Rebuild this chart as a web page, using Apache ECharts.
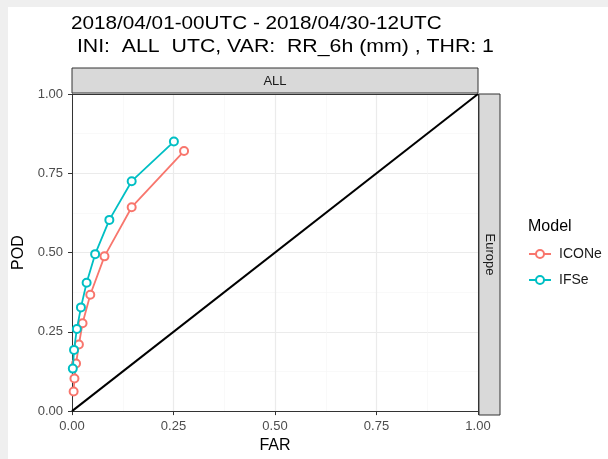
<!DOCTYPE html>
<html><head><meta charset="utf-8">
<script src="https://cdn.jsdelivr.net/npm/echarts@6/dist/echarts.min.js"></script>
<style>html,body{margin:0;padding:0;background:#fff}#c{width:608px;height:459px}</style>
</head><body><div id="c"></div>
<script>
const xTicks = [0, 0.25, 0.5, 0.75, 1];
const yTicks = [0, 0.25, 0.5, 0.75, 1];
const models = ['ICONe', 'IFSe'];
const iconeFAR = [0.276, 0.147, 0.080, 0.045, 0.026, 0.017, 0.010, 0.006, 0.004];
const iconePOD = [0.820, 0.643, 0.488, 0.367, 0.277, 0.210, 0.150, 0.103, 0.062];
const ifseFAR = [0.251, 0.147, 0.092, 0.057, 0.036, 0.022, 0.012, 0.005, 0.002];
const ifsePOD = [0.850, 0.725, 0.603, 0.495, 0.405, 0.327, 0.259, 0.193, 0.134];
const diagFAR = [0, 1];
const diagPOD = [0, 1];
const colors = ['#F8766D', '#00BFC4'];

const zip = (a, b) => a.map((v, i) => [v, b[i]]);
const fmt = v => v.toFixed(2);
const chart = echarts.init(document.getElementById('c'));
const F = 'Liberation Sans, Arial, sans-serif';
const L = 72, R = 478, T = 94, B = 415;
chart.setOption({
  animation: false,
  backgroundColor: '#fff',
  textStyle: { fontFamily: F },
  grid: { left: L, right: 608 - R, top: T, bottom: 459 - B },
  xAxis: [{
    type: 'value', min: 0, max: 1, interval: 0.25,
    name: 'FAR', nameLocation: 'middle', nameGap: 24,
    nameTextStyle: { fontSize: 16, color: '#000', fontFamily: F },
    axisLine: { show: true, lineStyle: { color: '#333', width: 1 } },
    axisTick: { show: true, length: 4, lineStyle: { color: '#333' } },
    axisLabel: { fontSize: 13, color: '#4d4d4d', margin: 9, formatter: fmt },
    splitLine: { show: true, lineStyle: { color: '#ebebeb', width: 1.2 } },
    minorTick: { show: false, splitNumber: 2 },
    minorSplitLine: { show: true, lineStyle: { color: '#f5f5f5', width: 0.6 } }
  }, {
    type: 'value', min: 0, max: 1, position: 'top',
    axisLine: { show: true, onZero: false, lineStyle: { color: '#333', width: 1 } },
    axisTick: { show: false }, axisLabel: { show: false }, splitLine: { show: false }
  }],
  yAxis: [{
    type: 'value', min: 0, max: 1, interval: 0.25,
    name: 'POD', nameLocation: 'middle', nameGap: 42, nameRotate: 90,
    nameTextStyle: { fontSize: 16, color: '#000', fontFamily: F },
    axisLine: { show: true, lineStyle: { color: '#333', width: 1 } },
    axisTick: { show: true, length: 4, lineStyle: { color: '#333' } },
    axisLabel: { fontSize: 13, color: '#4d4d4d', margin: 9, formatter: fmt },
    splitLine: { show: true, lineStyle: { color: '#ebebeb', width: 1.2 } },
    minorTick: { show: false, splitNumber: 2 },
    minorSplitLine: { show: true, lineStyle: { color: '#f5f5f5', width: 0.6 } }
  }, {
    type: 'value', min: 0, max: 1, position: 'right',
    axisLine: { show: true, onZero: false, lineStyle: { color: '#333', width: 1 } },
    axisTick: { show: false }, axisLabel: { show: false }, splitLine: { show: false }
  }],
  legend: {
    data: models, orient: 'vertical', left: 528, top: 247, padding: 0,
    itemWidth: 22, itemHeight: 10, itemGap: 12,
    textStyle: { fontSize: 14, color: '#1a1a1a', fontFamily: F, padding: [0, 0, 0, 3] }
  },
  series: [
    { name: 'diag', type: 'line', data: zip(diagFAR, diagPOD), showSymbol: false, silent: true,
      lineStyle: { color: '#000', width: 2 }, z: 1 },
    { name: models[0], type: 'line', data: zip(iconeFAR, iconePOD), color: colors[0],
      symbol: 'emptyCircle', symbolSize: 8, lineStyle: { width: 1.8 }, itemStyle: { borderWidth: 1.4 }, z: 3 },
    { name: models[1], type: 'line', data: zip(ifseFAR, ifsePOD), color: colors[1],
      symbol: 'emptyCircle', symbolSize: 8, lineStyle: { width: 1.8 }, itemStyle: { borderWidth: 1.4 }, z: 4 }
  ],
  graphic: [
    { type: 'rect', shape: { x: 0, y: 0, width: 8, height: 459 }, style: { fill: '#efefef' }, silent: true },
    { type: 'rect', shape: { x: 0, y: 0, width: 608, height: 7 }, style: { fill: '#efefef' }, silent: true },
    { type: 'rect', shape: { x: L, y: 68, width: R - L, height: 25 }, style: { fill: '#d9d9d9', stroke: '#333', lineWidth: 1 } },
    { type: 'text', x: (L + R) / 2, y: 81, style: { text: 'ALL', fontSize: 13, fill: '#1a1a1a', fontFamily: F, align: 'center', verticalAlign: 'middle' } },
    { type: 'rect', shape: { x: 479, y: T, width: 21, height: B - T }, style: { fill: '#d9d9d9', stroke: '#333', lineWidth: 1 } },
    { type: 'text', x: 490, y: (T + B) / 2, rotation: -Math.PI / 2, style: { text: 'Europe', fontSize: 13, fill: '#1a1a1a', fontFamily: F, align: 'center', verticalAlign: 'middle' } },
    { type: 'text', x: 71, y: 24, scaleX: 1.09, style: { text: '2018/04/01-00UTC - 2018/04/30-12UTC', fontSize: 19, fill: '#000', fontFamily: F, verticalAlign: 'middle' } },
    { type: 'text', x: 71, y: 47, scaleX: 1.12, style: { text: ' INI:  ALL  UTC, VAR:  RR_6h (mm) , THR: 1', fontSize: 19, fill: '#000', fontFamily: F, verticalAlign: 'middle' } },
    { type: 'text', x: 528, y: 227, style: { text: 'Model', fontSize: 16, fill: '#000', fontFamily: F, verticalAlign: 'middle' } }
  ]
});
</script></body></html>
